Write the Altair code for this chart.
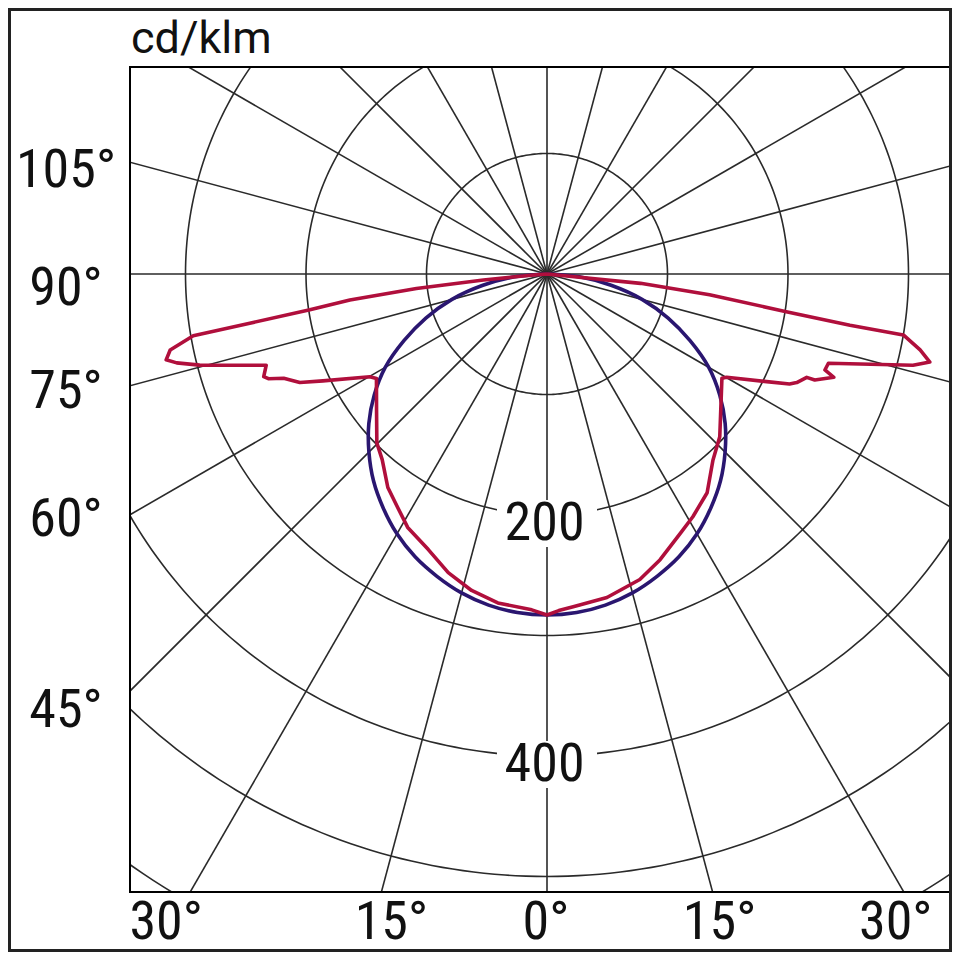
import subprocess
import numpy as np
import pandas as pd
import altair as alt

# ------------------------------------------------------------------ data
unit_label = "cd/klm"

# red curve: signed gamma in degrees (negative = left half), intensity in cd/klm, drawing order
red_gamma = [-90, -85.8, -84.6, -83.7, -82.5, -81.4, -80.6, -80.1, -78.6, -77.3,
             -76.5, -75.3, -72.0, -70.1, -69.4, -68.4, -66.3, -64.5, -59.9, -58.5,
             -51.4, -45.2, -41.6, -36.7, -32.6, -28.8, -23.3, -18.3, -13.4, -8.5,
             -2.6, 0, 2.0, 4.5, 10.5, 16.9, 21.6, 27.2, 31.0, 36.2, 41.7, 46.7,
             52.0, 59.2, 60.1, 63.9, 65.6, 66.5, 68.3, 68.4, 70.2, 70.95, 72.4,
             76.0, 77.05, 78.5, 80.3, 80.4, 81.06, 82.7, 84.3, 90]
red_value = [0, 11, 53, 109, 165, 199, 250, 298, 319, 324,
             316, 298, 245, 250, 247, 235, 224, 206, 170, 166,
             181, 199, 206, 221, 230, 240, 249, 261, 270, 276,
             279, 283, 279.5, 277, 273, 265, 255, 242, 235, 225, 207, 197,
             183, 169, 172, 203, 221, 226, 232, 239, 253, 244, 245,
             313, 326, 316, 300, 255, 201, 136, 78, 0]

# blue curve (same on both halves): gamma 0..90 deg, intensity in cd/klm
blue_gamma = [0, 5, 10, 15, 20, 25, 30, 35, 40, 45, 50, 55, 60, 65, 70, 75, 80, 85, 90]
blue_value = [283, 282, 279, 274, 267, 259, 249, 237, 224, 209, 193, 175, 155, 131, 107, 82, 54, 27, 0]

circle_values = [100, 200, 300, 400, 500, 600]
circle_label_values = [200, 400]
circle_label_texts = ["200", "400"]
ray_angles = list(range(0, 360, 15))
left_tick_angles = [105, 90, 75, 60, 45]
left_tick_texts = ["105°", "90°", "75°", "60°", "45°"]
bottom_tick_angles = [-30, -15, 0, 15, 30]
bottom_tick_texts = ["30°", "15°", "0°", "15°", "30°"]

# ------------------------------------------------------------------ layout / style
S = 1.205                       # px per cd/klm
PLOT_W, PLOT_H = 822, 825
PAD = {"left": 122, "top": 59, "right": 0, "bottom": 60}
X_MIN = -417 / S
X_MAX = X_MIN + PLOT_W / S
Y_MAX = 207 / S
Y_MIN = Y_MAX - PLOT_H / S

GRID = "#2a2a2a"
GRID_W = 1.6
RED = "#b00f3c"
BLUE = "#2a1670"
CURVE_W = 3.6
TEXT = "#111111"

LEFT_DY = {105: 25, 90: 31, 75: 22, 60: 21, 45: 36}      # baseline below ray crossing, px
LEFT_CX = -64                                              # label centre left of plot edge, px
BOTTOM_DX = {-30: -24, -15: 10, 0: -1, 15: 7, 30: -8}     # px
BOTTOM_BASE = 47                                           # px below plot bottom


def font_available(name):
    try:
        out = subprocess.run(["fc-list", ":", "family"], capture_output=True,
                             text=True, timeout=20).stdout
    except Exception:
        return False
    fams = {f.strip().lower() for line in out.splitlines() for f in line.split(",")}
    return name.lower() in fams


if font_available("Roboto Condensed"):
    LABEL_FONT, LABEL_SIZE = "Roboto Condensed", 54
elif font_available("Liberation Sans Narrow"):
    LABEL_FONT, LABEL_SIZE = "Liberation Sans Narrow", 54
else:
    LABEL_FONT, LABEL_SIZE = "Roboto", 50
TITLE_FONT, TITLE_SIZE = "Roboto", 45

xs = alt.Scale(domain=[X_MIN, X_MAX], nice=False, zero=False)
ys = alt.Scale(domain=[Y_MIN, Y_MAX], nice=False, zero=False)


def X(f):
    return alt.X(f"{f}:Q", scale=xs, axis=None)


def Y(f):
    return alt.Y(f"{f}:Q", scale=ys, axis=None)


def to_xy(gamma_deg, value):
    g = np.radians(np.asarray(gamma_deg, dtype=float))
    v = np.asarray(value, dtype=float)
    return v * np.sin(g), -v * np.cos(g)


# ------------------------------------------------------------------ frames
t = np.radians(np.arange(0, 361, 1.0))
circ_rows = []
for r in circle_values:
    for k, tt in enumerate(t):
        circ_rows.append({"r": r, "k": k, "x": r * np.sin(tt), "y": -r * np.cos(tt)})
df_circ = pd.DataFrame(circ_rows)

R_FAR = 1200
rx, ry = to_xy(ray_angles, [R_FAR] * len(ray_angles))
df_rays = pd.DataFrame({"x0": 0.0, "y0": 0.0, "x1": rx, "y1": ry})

df_box = pd.DataFrame({
    "x0": [-41.5] * len(circle_label_values),
    "x1": [41.5] * len(circle_label_values),
    "y0": [-(v - 12.4) for v in circle_label_values],
    "y1": [-(v + 26.6) for v in circle_label_values],
})
df_rlab = pd.DataFrame({
    "x": [-2.0] * len(circle_label_values),
    "y": [-(v + 25 / S) for v in circle_label_values],
    "txt": circle_label_texts,
})

bx, by = to_xy(blue_gamma, blue_value)
df_blue = pd.DataFrame({
    "x": list(-bx[::-1]) + list(bx[1:]),
    "y": list(by[::-1]) + list(by[1:]),
})
df_blue["k"] = np.arange(len(df_blue))

rx2, ry2 = to_xy(red_gamma, red_value)
df_red = pd.DataFrame({"k": np.arange(len(red_gamma)), "x": rx2, "y": ry2})

lg = np.radians(np.array(left_tick_angles, dtype=float))
df_left = pd.DataFrame({
    "x": X_MIN + LEFT_CX / S,
    "y": [X_MIN * np.cos(g) / np.sin(g) - LEFT_DY[a] / S for g, a in zip(lg, left_tick_angles)],
    "txt": left_tick_texts,
})
df_bottom = pd.DataFrame({
    "x": [-Y_MIN * np.tan(np.radians(a)) + BOTTOM_DX[a] / S for a in bottom_tick_angles],
    "y": Y_MIN - BOTTOM_BASE / S,
    "txt": bottom_tick_texts,
})
df_title = pd.DataFrame({"x": [X_MIN + 1 / S], "y": [Y_MAX + 14 / S], "txt": [unit_label]})
one = pd.DataFrame({"a": [0]})

# ------------------------------------------------------------------ layers
circles = alt.Chart(df_circ).mark_line(clip=True, color=GRID, strokeWidth=GRID_W).encode(
    x=X("x"), y=Y("y"), detail="r:N", order="k:Q")
rays = alt.Chart(df_rays).mark_rule(clip=True, color=GRID, strokeWidth=GRID_W).encode(
    x=X("x0"), y=Y("y0"), x2="x1:Q", y2="y1:Q")
boxes = alt.Chart(df_box).mark_rect(color="white").encode(
    x=X("x0"), x2="x1:Q", y=Y("y0"), y2="y1:Q")
rlab = alt.Chart(df_rlab).mark_text(font=LABEL_FONT, fontSize=LABEL_SIZE, color=TEXT,
                                    align="center", baseline="alphabetic").encode(
    x=X("x"), y=Y("y"), text="txt:N")
blue = alt.Chart(df_blue).mark_line(clip=True, color=BLUE, strokeWidth=CURVE_W,
                                    interpolate="catmull-rom").encode(
    x=X("x"), y=Y("y"), order="k:Q")
red = alt.Chart(df_red).mark_line(clip=True, color=RED, strokeWidth=CURVE_W,
                                  strokeJoin="round").encode(
    x=X("x"), y=Y("y"), order="k:Q")
frame = alt.Chart(one).mark_rect(fillOpacity=0, stroke="black", strokeWidth=2).encode(
    x=alt.value(0), x2=alt.value(PLOT_W), y=alt.value(0), y2=alt.value(PLOT_H))
left_t = alt.Chart(df_left).mark_text(font=LABEL_FONT, fontSize=LABEL_SIZE, color=TEXT,
                                      align="center", baseline="alphabetic").encode(
    x=X("x"), y=Y("y"), text="txt:N")
bottom_t = alt.Chart(df_bottom).mark_text(font=LABEL_FONT, fontSize=LABEL_SIZE, color=TEXT,
                                          align="center", baseline="alphabetic").encode(
    x=X("x"), y=Y("y"), text="txt:N")
title_t = alt.Chart(df_title).mark_text(font=TITLE_FONT, fontSize=TITLE_SIZE, color=TEXT,
                                        align="left", baseline="alphabetic").encode(
    x=X("x"), y=Y("y"), text="txt:N")
total_h = PLOT_H + PAD["top"] + PAD["bottom"]
outer = alt.Chart(one).mark_rect(fillOpacity=0, stroke="#222222", strokeWidth=3).encode(
    x=alt.value(-PAD["left"] + 1.5), x2=alt.value(PLOT_W + PAD["right"] - 1.5),
    y=alt.value(-PAD["top"] + 1.5), y2=alt.value(total_h - PAD["top"] - 1.5))

chart = alt.layer(circles, rays, boxes, rlab, blue, red, frame,
                  left_t, bottom_t, title_t, outer).properties(
    width=PLOT_W, height=PLOT_H, padding=PAD,
    autosize=alt.AutoSizeParams(type="none"), background="white",
).configure_view(stroke=None)

chart.save("out.html", embed_options={"renderer": "svg", "actions": False})
